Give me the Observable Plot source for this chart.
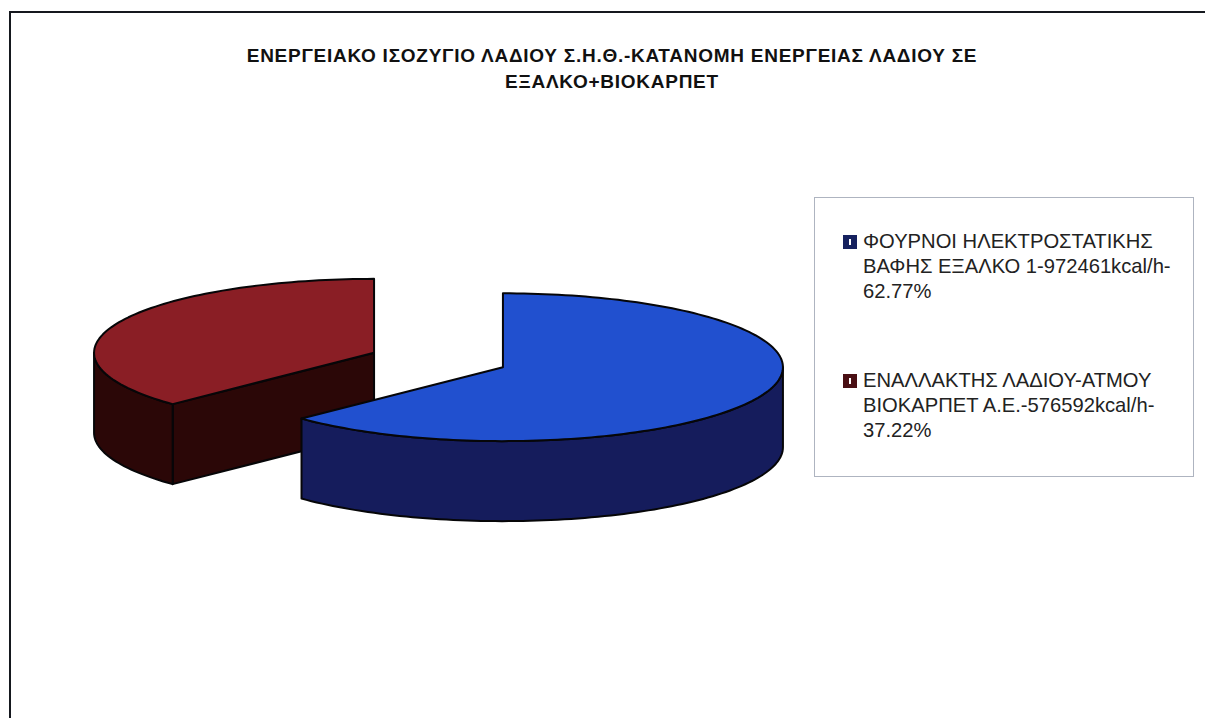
<!DOCTYPE html>
<html>
<head>
<meta charset="utf-8">
<script src="https://cdn.jsdelivr.net/npm/d3@7"></script>
<script src="https://cdn.jsdelivr.net/npm/@observablehq/plot@0.6"></script>
<style>
  html, body { margin: 0; padding: 0; background: #fff; }
  #page { position: relative; width: 1205px; height: 718px; overflow: hidden; font-family: "Liberation Sans", Arial, sans-serif; color: #1a1a1a; }
  #frame { position: absolute; left: 9px; top: 11px; right: -5px; bottom: -5px; border-top: 2.5px solid #15181e; border-left: 2.5px solid #15181e; }
  #chart { position: absolute; left: 0; top: 0; }
  #title { position: absolute; left: 112px; width: 1000px; top: 43px; text-align: center; font-weight: bold; font-size: 19px; letter-spacing: 0.74px; line-height: 26px; color: #111; }
  #legend { position: absolute; left: 814px; top: 197px; width: 378px; height: 278px; border: 1px solid #aeb4c0; background: #fff; }
  .entry { position: absolute; left: 48px; font-size: 20.2px; line-height: 25px; white-space: nowrap; color: #222; }
  .swatch { position: absolute; left: -20px; top: 6px; width: 14px; height: 14px; }
  .swatch i { position: absolute; left: 6px; top: 4px; width: 2px; height: 6px; background: #fff; }
</style>
</head>
<body>
<div id="page">
  <div id="frame"></div>
  <div id="chart"></div>
  <div id="title"></div>
  <div id="legend"></div>
</div>
<script>
const titleLines = [
  "ΕΝΕΡΓΕΙΑΚΟ ΙΣΟΖΥΓΙΟ ΛΑΔΙΟΥ Σ.Η.Θ.-ΚΑΤΑΝΟΜΗ ΕΝΕΡΓΕΙΑΣ ΛΑΔΙΟΥ ΣΕ",
  "ΕΞΑΛΚΟ+ΒΙΟΚΑΡΠΕΤ"
];
const legendLines = [
  ["ΦΟΥΡΝΟΙ ΗΛΕΚΤΡΟΣΤΑΤΙΚΗΣ", "ΒΑΦΗΣ ΕΞΑΛΚΟ 1-972461kcal/h-", "62.77%"],
  ["ΕΝΑΛΛΑΚΤΗΣ ΛΑΔΙΟΥ-ΑΤΜΟΥ", "ΒΙΟΚΑΡΠΕΤ Α.Ε.-576592kcal/h-", "37.22%"]
];
const values = [972461, 576592];
const topColors = ["#2150cf", "#8a1e25"];
const wallColors = ["#151c5c", "#2b0707"];
const swatchColors = ["#16215f", "#4a0f14"];

// Projection of the exploded, tilted pie (radius = 1 data unit)
const radiusPx = 280, originX = 438, originY = 359.5;
const tilt = 0.264, explode = 0.25, depth = 80 / radiusPx;
const total = d3.sum(values);
const TAU = 2 * Math.PI;

let acc = 0;
const slices = values.map((v) => {
  const a0 = acc / total * TAU;
  acc += v;
  const a1 = acc / total * TAU;
  const mid = (a0 + a1) / 2;
  return { a0, a1, cx: explode * Math.sin(mid), cy: -explode * Math.cos(mid) * tilt };
});
const rim = (s, a, dz = 0) => ({ x: s.cx + Math.sin(a), y: s.cy - Math.cos(a) * tilt + dz });
const arc = (s, a0, a1, dz = 0) => {
  const n = Math.max(2, Math.ceil(Math.abs(a1 - a0) * 40));
  return d3.range(n + 1).map((k) => rim(s, a0 + (a1 - a0) * k / n, dz));
};
const closed = (pts) => [...pts, pts[0]];
const hub = (s, dz = 0) => ({ x: s.cx, y: s.cy + dz });

const topFace = (s) => closed([hub(s), ...arc(s, s.a0, s.a1)]);
// Visible outer wall: the part of the rim on the viewer's side (angles between 90° and 270°)
const outerWall = (s) => {
  const a0 = Math.max(s.a0, TAU / 4), a1 = Math.min(s.a1, 3 * TAU / 4);
  return closed([...arc(s, a0, a1), ...arc(s, a1, a0, depth)]);
};
const cutWall = (s) => closed([hub(s), rim(s, s.a0), rim(s, s.a0, depth), hub(s, depth)]);

const face = (pts, fill) => Plot.line(pts, { x: "x", y: "y", fill, stroke: "#060608", strokeWidth: 2, strokeLinejoin: "round" });

const [blue, red] = slices;
const plot = Plot.plot({
  width: 1205,
  height: 718,
  margin: 0,
  x: { domain: [-originX / radiusPx, (1205 - originX) / radiusPx], range: [0, 1205], axis: null },
  y: { domain: [-originY / radiusPx, (718 - originY) / radiusPx], range: [0, 718], axis: null },
  style: { background: "transparent" },
  marks: [
    face(cutWall(red), wallColors[1]),
    face(outerWall(red), wallColors[1]),
    face(topFace(red), topColors[1]),
    face(outerWall(blue), wallColors[0]),
    face(topFace(blue), topColors[0])
  ]
});
document.getElementById("chart").appendChild(plot);

document.getElementById("title").innerHTML = titleLines.map((t) => `<div>${t}</div>`).join("");
const entryTops = [31, 170];
document.getElementById("legend").innerHTML = legendLines.map((lines, i) =>
  `<div class="entry" style="top:${entryTops[i]}px"><span class="swatch" style="background:${swatchColors[i]}"><i></i></span>${lines.join("<br>")}</div>`
).join("");
</script>
</body>
</html>
